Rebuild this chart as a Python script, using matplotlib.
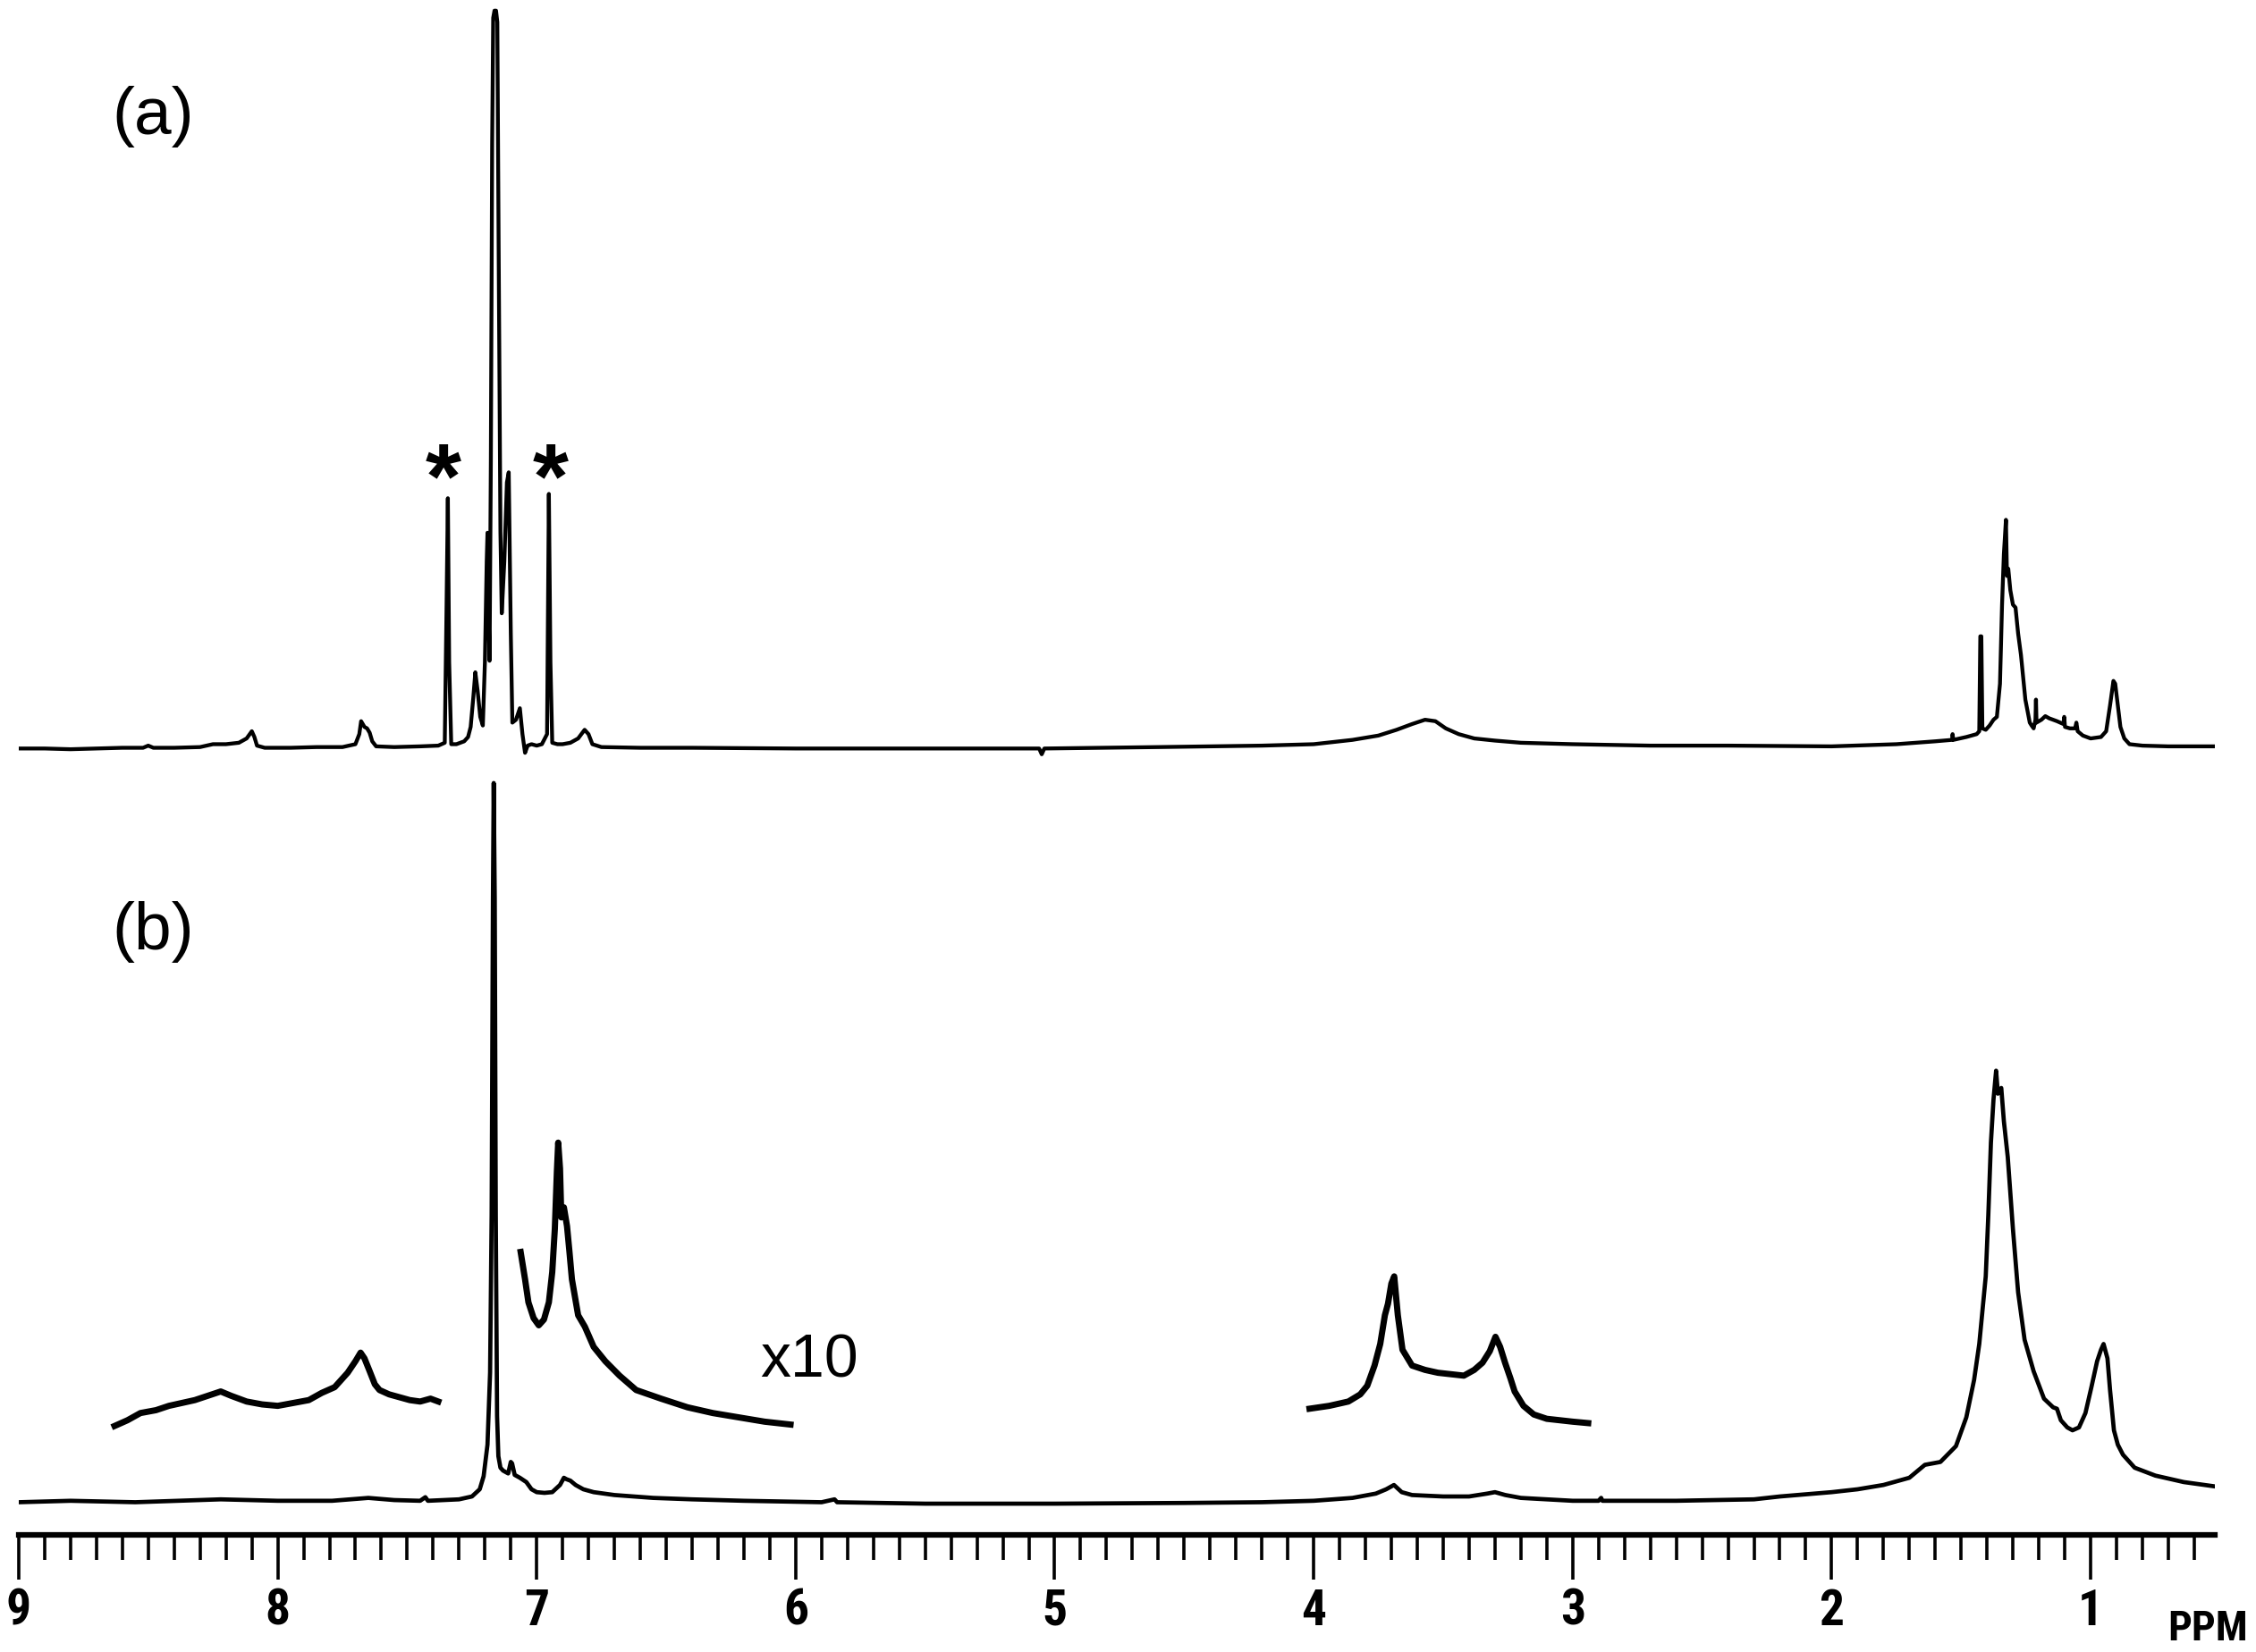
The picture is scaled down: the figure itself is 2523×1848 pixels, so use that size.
import matplotlib
matplotlib.use("Agg")
import matplotlib.pyplot as plt
from matplotlib import font_manager
from matplotlib.ticker import MultipleLocator, FixedLocator

# spectrum (a): shift (ppm) and intensity above its own baseline
a_ppm = [9.00, 8.90, 8.80, 8.70, 8.60, 8.52, 8.50, 8.48, 8.40, 8.30, 8.25, 8.20, 8.15, 8.12,
         8.10, 8.09, 8.08, 8.05, 7.95, 7.85, 7.75, 7.70, 7.685, 7.678, 7.665, 7.655, 7.645,
         7.635, 7.62, 7.55, 7.45, 7.38, 7.355, 7.348, 7.343, 7.338, 7.33, 7.31, 7.28, 7.265,
         7.255, 7.245, 7.237, 7.228, 7.218, 7.208, 7.20, 7.193, 7.19, 7.186, 7.182, 7.177,
         7.172, 7.168, 7.163, 7.157, 7.152, 7.147, 7.14, 7.135, 7.125, 7.115, 7.108, 7.10,
         7.094, 7.08, 7.065, 7.055, 7.045, 7.035, 7.02, 7.00, 6.98, 6.96, 6.953, 6.947, 6.94,
         6.92, 6.90, 6.87, 6.84, 6.815, 6.80, 6.785, 6.75, 6.60, 6.40, 6.00, 5.50, 5.06, 5.05,
         5.04, 4.60, 4.20, 4.00, 3.85, 3.75, 3.68, 3.62, 3.57, 3.53, 3.49, 3.44, 3.38, 3.30,
         3.20, 3.00, 2.70, 2.40, 2.00, 1.75, 1.60, 1.535, 1.533, 1.53, 1.48, 1.44, 1.43,
         1.426, 1.422, 1.418, 1.405, 1.39, 1.375, 1.362, 1.35, 1.342, 1.335, 1.33, 1.327,
         1.323, 1.318, 1.31, 1.30, 1.29, 1.28, 1.269, 1.252, 1.235, 1.228, 1.22, 1.213,
         1.211, 1.209, 1.19, 1.175, 1.16, 1.13, 1.105, 1.102, 1.099, 1.08, 1.06, 1.055,
         1.05, 1.03, 1.00, 0.96, 0.94, 0.925, 0.912, 0.905, 0.895, 0.885, 0.87, 0.85, 0.80,
         0.70, 0.60, 0.52]
a_int = [0, 0, -0.5, 0, 0.5, 0.5, 2, 0.5, 0.5, 1, 3, 3, 4, 7,
         12, 8, 2, 0.5, 0.5, 1, 1, 3, 10, 19, 15, 14, 11,
         5, 1.5, 1, 1.5, 2, 4, 100, 174, 60, 3, 3, 5, 8,
         15, 35, 53, 40, 22, 16, 60, 130, 150, 100, 61, 200,
         420, 508, 513, 513, 505, 350, 150, 94, 130, 185, 192, 80,
         18, 20, 28, 10, -3, 2, 3, 2, 3, 10, 177, 60, 4,
         3, 3, 4, 7, 13, 10, 3, 1, 0.5, 0.5, 0, 0, 0, -4,
         0, 1, 2, 3, 6, 9, 13, 17, 20, 19, 14, 10, 7, 5.5,
         4, 3, 2, 2, 1.5, 3, 5, 6, 10, 6, 8, 10, 12,
         78, 78, 14, 13, 16, 20, 22, 45, 100, 135, 150, 159,
         120, 125, 110, 100, 98, 80, 65, 34, 18, 16, 14, 20,
         34, 18, 20, 22.5, 21, 19, 17, 22, 15, 14, 14, 18,
         12, 9, 7, 8, 12, 30, 47, 45, 30, 15, 7, 3, 2,
         1.5, 1.5, 1.5]

# spectrum (b)
b_ppm = [9.00, 8.80, 8.55, 8.22, 8.00, 7.79, 7.65, 7.55, 7.45, 7.43, 7.42, 7.30, 7.25, 7.22,
         7.205, 7.19, 7.18, 7.174, 7.169, 7.166, 7.162, 7.158, 7.153, 7.148, 7.14, 7.13,
         7.11, 7.10, 7.095, 7.085, 7.065, 7.04, 7.02, 7.00, 6.97, 6.94, 6.91, 6.895, 6.885,
         6.87, 6.85, 6.82, 6.78, 6.70, 6.55, 6.40, 6.20, 5.90, 5.85, 5.84, 5.50, 5.00, 4.50,
         4.20, 4.00, 3.85, 3.76, 3.72, 3.69, 3.66, 3.62, 3.50, 3.40, 3.33, 3.30, 3.26, 3.20,
         3.10, 3.00, 2.90, 2.89, 2.885, 2.60, 2.30, 2.20, 2.00, 1.90, 1.80, 1.70, 1.64,
         1.58, 1.52, 1.48, 1.45, 1.43, 1.405, 1.395, 1.385, 1.375, 1.365, 1.358, 1.345,
         1.335, 1.32, 1.30, 1.28, 1.255, 1.22, 1.18, 1.145, 1.13, 1.115, 1.09, 1.07, 1.045,
         1.02, 0.997, 0.975, 0.96, 0.95, 0.935, 0.925, 0.91, 0.895, 0.875, 0.83, 0.75,
         0.64, 0.52]
b_int = [0, 1, 0, 2, 1, 1, 3, 1.5, 1, 3.5, 1, 2, 4, 9,
         18, 40, 90, 200, 420, 500, 420, 200, 60, 32, 24, 22,
         20, 28, 27, 19, 17, 14, 9, 7, 6.5, 7, 12, 17, 16,
         15, 12, 9, 7, 5, 3, 2, 1, 0, 2, 0, -1, -1, -0.5,
         0, 1, 3, 6, 9, 12, 7, 5, 4, 4, 6, 7, 5, 3,
         2, 1, 1, 3, 1, 1, 2, 4, 7, 9, 12, 17, 26,
         28, 39, 59, 85, 110, 157, 200, 250, 280, 300, 284, 288,
         265, 240, 190, 146, 113, 91, 72, 66, 65, 57, 52, 50, 52,
         62, 80, 98, 106, 110, 100, 78, 50, 40, 33, 24, 18.5,
         14, 11]

# x10 expansions of (b), drawn raised above the trace
x10_left_ppm = [8.63, 8.58, 8.53, 8.47, 8.42, 8.37, 8.32, 8.27, 8.22, 8.18, 8.12, 8.06, 8.00,
                7.94, 7.88, 7.83, 7.78, 7.73, 7.70, 7.68, 7.665, 7.647, 7.625, 7.607, 7.57,
                7.53, 7.49, 7.45, 7.41, 7.38]
x10_left_int = [53, 57, 62, 64, 67, 69, 71, 74, 77, 74, 70, 68, 67,
                69, 71, 76, 80, 90, 98, 104, 100, 92, 82, 78, 75,
                73, 71, 70, 72, 70]
x10_mid_ppm = [7.062, 7.045, 7.032, 7.012, 6.992, 6.972, 6.953, 6.94, 6.93, 6.922, 6.917, 6.91,
               6.905, 6.895, 6.883, 6.874, 6.864, 6.84, 6.814, 6.78, 6.735, 6.68, 6.616,
               6.52, 6.418, 6.32, 6.22, 6.12, 6.02]
x10_mid_int = [174, 155, 139, 128, 123, 127, 139, 160, 190, 230, 250, 232,
               198, 205, 192, 175, 155, 130, 122, 108, 98, 88, 78,
               72, 66, 62, 59, 56, 54]
x10_right_ppm = [4.016, 3.94, 3.866, 3.82, 3.793, 3.765, 3.743, 3.725, 3.713, 3.70, 3.689,
                 3.675, 3.657, 3.62, 3.57, 3.52, 3.47, 3.42, 3.38, 3.348, 3.32, 3.298, 3.28,
                 3.261, 3.24, 3.224, 3.19, 3.15, 3.10, 3.05, 3.00, 2.94]
x10_right_int = [65, 67, 70, 75, 81, 95, 110, 130, 138, 152, 157,
                 130, 106, 95, 92, 90, 89, 88, 92, 97, 105, 115, 108,
                 97, 86, 77, 67, 61, 58, 57, 56, 55]

a_offset = 524
major_ticks = [1, 2, 3, 4, 5, 6, 7, 8, 9]

names = {f.name for f in font_manager.fontManager.ttflist}
narrow = next((n for n in ["Liberation Sans Narrow", "Roboto Condensed", "Liberation Sans"]
               if n in names), "DejaVu Sans")
plain = "Liberation Sans" if "Liberation Sans" in names else "DejaVu Sans"

fig = plt.figure(figsize=(25.23, 18.49), dpi=100)
ax = fig.add_axes([0.0083, 0.0706, 0.9735, 0.9294])

ax.plot(a_ppm, [v + a_offset for v in a_int], color="black", lw=3.1, solid_joinstyle="round")
ax.plot(b_ppm, b_int, color="black", lw=3.4, solid_joinstyle="round")
for xs, ys in [(x10_left_ppm, x10_left_int), (x10_mid_ppm, x10_mid_int),
               (x10_right_ppm, x10_right_int)]:
    ax.plot(xs, ys, color="black", lw=5.0, solid_joinstyle="round")

ax.set_xlim(9.0, 0.52)
ax.set_ylim(-23, 1045)
for s in ["left", "right", "top"]:
    ax.spines[s].set_visible(False)
ax.spines["bottom"].set_linewidth(4.5)
ax.set_yticks([])
ax.xaxis.set_major_locator(FixedLocator(major_ticks))
ax.xaxis.set_minor_locator(MultipleLocator(0.1))
ax.tick_params(axis="x", which="major", length=36, width=2.6, direction="out", pad=6,
               labelsize=40)
ax.tick_params(axis="x", which="minor", length=20, width=2.6, direction="out")
for lab in ax.get_xticklabels():
    lab.set_fontfamily(narrow)
    lab.set_fontweight("bold")

fig.text(2424 / 2523, 0.0075, "PPM", fontsize=34, fontweight="bold", family=narrow,
         ha="left", va="baseline")
fig.text(125 / 2523, 0.919, "(a)", fontsize=54, family=plain, ha="left", va="baseline")
fig.text(125 / 2523, 0.4256, "(b)", fontsize=54, family=plain, ha="left", va="baseline")
fig.text(850 / 2523, 0.167, "x10", fontsize=49, family=plain, ha="left", va="baseline")

for x in [7.36, 6.945]:
    ax.text(x, 692, "*", fontsize=74, fontweight="bold", family=plain, ha="center",
            va="baseline")

fig.savefig("out.png", dpi=100)
